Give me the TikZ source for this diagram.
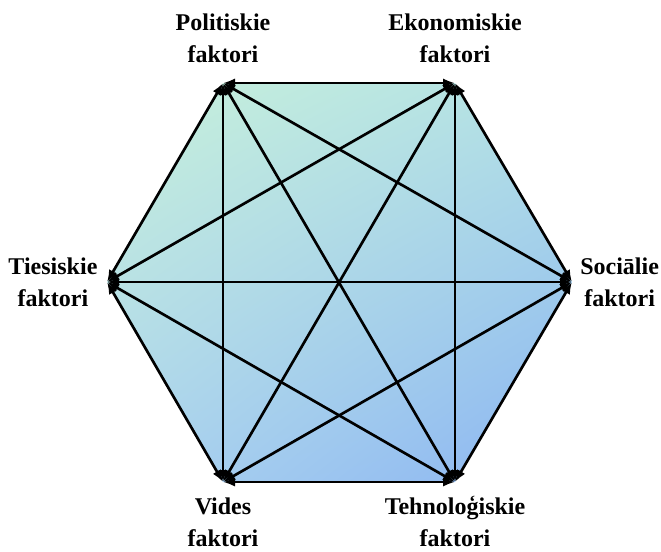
\documentclass[tikz,border=0pt]{standalone}
\usepackage{fontspec}
\setmainfont{Liberation Serif}
\usepackage{tikz}
\usetikzlibrary{arrows.meta}
\usetikzlibrary{shadings}
\usetikzlibrary{positioning}
\definecolor{hexmint}{RGB}{200,241,218}
\definecolor{hexteal}{RGB}{178,224,230}
\definecolor{hexsky}{RGB}{172,212,238}
\definecolor{hexblue}{RGB}{138,180,242}
\tikzset{
  factor/.style={align=center, inner sep=0pt, font=\fontsize{18}{24}\selectfont\bfseries},
  link/.style={line width=2pt, {Latex[length=9pt,width=7pt]}-{Latex[length=9pt,width=7pt]}}
}

\begin{document}
\begin{tikzpicture}[x=0.75pt, y=-0.75pt]
\useasboundingbox (0,0) rectangle (661,551);

% corners of the hexagon
\coordinate (pol) at (223,83);
\coordinate (eko) at (455,83);
\coordinate (soc) at (572,282);
\coordinate (teh) at (455,482);
\coordinate (vid) at (223,482);
\coordinate (ties) at (107,282);

% gradient fill
\begin{scope}
\clip (pol) -- (eko) -- (soc) -- (teh) -- (vid) -- (ties) -- cycle;
\shade[upper left=hexmint, upper right=hexteal, lower left=hexsky, lower right=hexblue]
  (107,83) rectangle (572,482);
\end{scope}

% labels
\node[factor, above=15pt of pol] (polt) {Politiskie\\faktori};
\node[factor, above=15pt of eko] (ekot) {Ekonomiskie\\faktori};
\node[factor, right=6pt of soc] (soct) {Sociālie\\faktori};
\node[factor, below=10pt of teh] (teht) {Tehnoloģiskie\\faktori};
\node[factor, below=12pt of vid] (vidt) {Vides\\faktori};
\node[factor, left=7pt of ties] (tiest) {Tiesiskie\\faktori};

% every factor linked with every other one
\foreach \a/\b in {pol/eko, pol/soc, pol/teh, pol/vid, pol/ties,
                   eko/soc, eko/teh, eko/vid, eko/ties,
                   soc/teh, soc/vid, soc/ties,
                   teh/vid, teh/ties,
                   vid/ties}
  \draw[link] (\a) -- (\b);

\end{tikzpicture}
\end{document}
